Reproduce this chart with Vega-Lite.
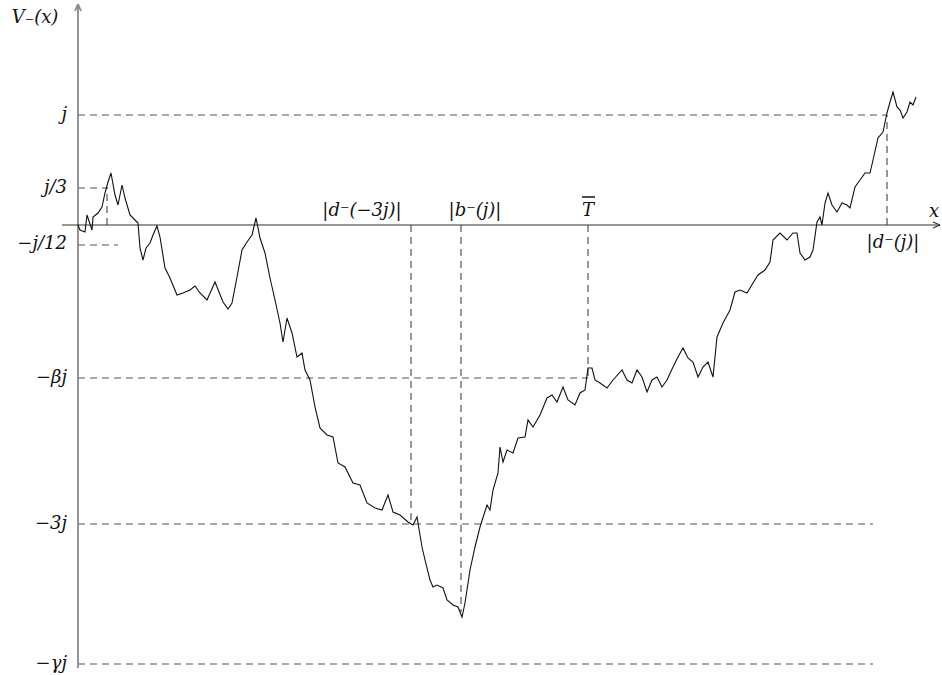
{
  "$schema": "https://vega.github.io/schema/vega-lite/v6.json",
  "width": 942,
  "height": 675,
  "padding": 0,
  "autosize": {"type": "fit", "contains": "padding"},
  "config": {"view": {"stroke": null}},
  "layer": [
    {
      "data": {"values": [
        {"x": 0, "y": 110, "x2": 809, "y2": 110},
        {"x": 0, "y": 37, "x2": 30, "y2": 37},
        {"x": 0, "y": -20, "x2": 40, "y2": -20},
        {"x": 0, "y": -153, "x2": 510, "y2": -153},
        {"x": 0, "y": -299, "x2": 795, "y2": -299},
        {"x": 0, "y": -439, "x2": 795, "y2": -439},
        {"x": 29, "y": 0, "x2": 29, "y2": 37},
        {"x": 333, "y": 0, "x2": 333, "y2": -299},
        {"x": 383, "y": 0, "x2": 383, "y2": -387},
        {"x": 510, "y": 0, "x2": 510, "y2": -153},
        {"x": 809, "y": 0, "x2": 809, "y2": 110}
      ]},
      "mark": {"type": "rule", "color": "#555", "strokeWidth": 1.2, "strokeDash": [7, 5]},
      "encoding": {
        "x": {"field": "x", "type": "quantitative", "scale": {"domain": [-78, 864], "nice": false, "zero": false}, "axis": null},
        "x2": {"field": "x2"},
        "y": {"field": "y", "type": "quantitative", "scale": {"domain": [-450, 225], "nice": false, "zero": false}, "axis": null},
        "y2": {"field": "y2"}
      }
    },
    {
      "data": {"values": [
        {"x": 0, "y": -443, "x2": 0, "y2": 221, "c": "y"},
        {"x": -3, "y": 214, "x2": 0, "y2": 221, "c": "y"},
        {"x": 3, "y": 214, "x2": 0, "y2": 221, "c": "y"},
        {"x": -16, "y": 0, "x2": 862, "y2": 0, "c": "x"},
        {"x": 855, "y": 3, "x2": 862, "y2": 0, "c": "x"},
        {"x": 855, "y": -3, "x2": 862, "y2": 0, "c": "x"}
      ]},
      "mark": {"type": "rule"},
      "encoding": {
        "x": {"field": "x", "type": "quantitative", "scale": {"domain": [-78, 864], "nice": false, "zero": false}, "axis": null},
        "x2": {"field": "x2"},
        "y": {"field": "y", "type": "quantitative", "scale": {"domain": [-450, 225], "nice": false, "zero": false}, "axis": null},
        "y2": {"field": "y2"},
        "color": {"field": "c", "type": "nominal", "scale": {"domain": ["x", "y"], "range": ["#333333", "#8a8a8a"]}, "legend": null},
        "strokeWidth": {"field": "c", "type": "nominal", "scale": {"domain": ["x", "y"], "range": [1.2, 1.8]}, "legend": null}
      }
    },
    {
      "data": {"values": [
        {"x": 0, "y": 0}, {"x": 2, "y": -5}, {"x": 7, "y": -7}, {"x": 9, "y": 10}, {"x": 14, "y": -5},
        {"x": 15, "y": 8}, {"x": 20, "y": 12}, {"x": 24, "y": 18}, {"x": 27, "y": 32}, {"x": 30, "y": 43},
        {"x": 33, "y": 52}, {"x": 37, "y": 30}, {"x": 40, "y": 20}, {"x": 44, "y": 40}, {"x": 47, "y": 27},
        {"x": 52, "y": 10}, {"x": 57, "y": 5}, {"x": 60, "y": 2}, {"x": 62, "y": -23}, {"x": 65, "y": -35},
        {"x": 68, "y": -23}, {"x": 72, "y": -18}, {"x": 75, "y": -10}, {"x": 79, "y": -1}, {"x": 82, "y": -12},
        {"x": 87, "y": -43}, {"x": 92, "y": -53}, {"x": 99, "y": -70}, {"x": 105, "y": -68}, {"x": 112, "y": -65},
        {"x": 117, "y": -61}, {"x": 122, "y": -68}, {"x": 129, "y": -75}, {"x": 137, "y": -57}, {"x": 145, "y": -77},
        {"x": 150, "y": -84}, {"x": 154, "y": -78}, {"x": 159, "y": -52}, {"x": 164, "y": -25}, {"x": 169, "y": -17},
        {"x": 174, "y": -10}, {"x": 178, "y": 7}, {"x": 182, "y": -13}, {"x": 187, "y": -28}, {"x": 192, "y": -53},
        {"x": 197, "y": -75}, {"x": 202, "y": -98}, {"x": 205, "y": -117}, {"x": 209, "y": -93}, {"x": 214, "y": -108},
        {"x": 219, "y": -132}, {"x": 224, "y": -128}, {"x": 227, "y": -145}, {"x": 232, "y": -155}, {"x": 237, "y": -182},
        {"x": 242, "y": -203}, {"x": 249, "y": -210}, {"x": 255, "y": -212}, {"x": 260, "y": -238}, {"x": 267, "y": -242},
        {"x": 275, "y": -258}, {"x": 282, "y": -260}, {"x": 289, "y": -278}, {"x": 297, "y": -283}, {"x": 304, "y": -285},
        {"x": 310, "y": -270}, {"x": 315, "y": -287}, {"x": 322, "y": -290}, {"x": 330, "y": -297}, {"x": 335, "y": -300},
        {"x": 339, "y": -292}, {"x": 344, "y": -322}, {"x": 347, "y": -335}, {"x": 352, "y": -355}, {"x": 355, "y": -362},
        {"x": 359, "y": -360}, {"x": 365, "y": -363}, {"x": 369, "y": -375}, {"x": 375, "y": -380}, {"x": 380, "y": -382},
        {"x": 384, "y": -392}, {"x": 387, "y": -378}, {"x": 392, "y": -345}, {"x": 397, "y": -322}, {"x": 402, "y": -302},
        {"x": 409, "y": -280}, {"x": 412, "y": -285}, {"x": 415, "y": -265}, {"x": 420, "y": -248}, {"x": 422, "y": -222},
        {"x": 425, "y": -237}, {"x": 429, "y": -225}, {"x": 435, "y": -228}, {"x": 440, "y": -213}, {"x": 447, "y": -212},
        {"x": 450, "y": -195}, {"x": 455, "y": -202}, {"x": 462, "y": -190}, {"x": 469, "y": -173}, {"x": 474, "y": -170},
        {"x": 479, "y": -177}, {"x": 485, "y": -162}, {"x": 490, "y": -175}, {"x": 497, "y": -180}, {"x": 502, "y": -168},
        {"x": 507, "y": -165}, {"x": 510, "y": -143}, {"x": 514, "y": -143}, {"x": 517, "y": -155}, {"x": 522, "y": -158},
        {"x": 529, "y": -163}, {"x": 535, "y": -155}, {"x": 544, "y": -145}, {"x": 549, "y": -155}, {"x": 554, "y": -158},
        {"x": 559, "y": -145}, {"x": 564, "y": -152}, {"x": 569, "y": -167}, {"x": 574, "y": -155}, {"x": 579, "y": -152},
        {"x": 584, "y": -162}, {"x": 589, "y": -155}, {"x": 595, "y": -142}, {"x": 600, "y": -132}, {"x": 605, "y": -123},
        {"x": 610, "y": -133}, {"x": 615, "y": -137}, {"x": 620, "y": -152}, {"x": 625, "y": -142}, {"x": 630, "y": -137},
        {"x": 635, "y": -152}, {"x": 639, "y": -112}, {"x": 645, "y": -98}, {"x": 652, "y": -85}, {"x": 657, "y": -67},
        {"x": 662, "y": -65}, {"x": 669, "y": -68}, {"x": 675, "y": -58}, {"x": 680, "y": -50}, {"x": 687, "y": -45},
        {"x": 692, "y": -37}, {"x": 695, "y": -15}, {"x": 702, "y": -8}, {"x": 709, "y": -15}, {"x": 715, "y": -8},
        {"x": 719, "y": -8}, {"x": 722, "y": -28}, {"x": 727, "y": -35}, {"x": 732, "y": -32}, {"x": 735, "y": -25},
        {"x": 739, "y": 3}, {"x": 742, "y": 8}, {"x": 744, "y": 0}, {"x": 747, "y": 22}, {"x": 750, "y": 32},
        {"x": 754, "y": 20}, {"x": 759, "y": 13}, {"x": 764, "y": 22}, {"x": 769, "y": 20}, {"x": 772, "y": 17},
        {"x": 777, "y": 38}, {"x": 782, "y": 45}, {"x": 787, "y": 52}, {"x": 792, "y": 52}, {"x": 795, "y": 65},
        {"x": 800, "y": 87}, {"x": 805, "y": 93}, {"x": 809, "y": 112}, {"x": 812, "y": 123}, {"x": 815, "y": 133},
        {"x": 819, "y": 118}, {"x": 822, "y": 115}, {"x": 825, "y": 107}, {"x": 829, "y": 113}, {"x": 832, "y": 123},
        {"x": 835, "y": 120}, {"x": 838, "y": 128}
      ]},
      "mark": {"type": "line", "color": "#111", "strokeWidth": 1.1},
      "encoding": {
        "x": {"field": "x", "type": "quantitative", "scale": {"domain": [-78, 864], "nice": false, "zero": false}, "axis": null},
        "y": {"field": "y", "type": "quantitative", "scale": {"domain": [-450, 225], "nice": false, "zero": false}, "axis": null}
      }
    },
    {
      "data": {"values": [
        {"x": 504, "y": 28, "x2": 517, "y2": 28}
      ]},
      "mark": {"type": "rule", "color": "#111", "strokeWidth": 1.5},
      "encoding": {
        "x": {"field": "x", "type": "quantitative", "scale": {"domain": [-78, 864], "nice": false, "zero": false}, "axis": null},
        "x2": {"field": "x2"},
        "y": {"field": "y", "type": "quantitative", "scale": {"domain": [-450, 225], "nice": false, "zero": false}, "axis": null},
        "y2": {"field": "y2"}
      }
    },
    {
      "data": {"values": [
        {"x": -11, "y": 110, "t": "j"},
        {"x": -11, "y": 37, "t": "j/3"},
        {"x": -11, "y": -19, "t": "−j/12"},
        {"x": -11, "y": -153, "t": "−βj"},
        {"x": -11, "y": -299, "t": "−3j"},
        {"x": -11, "y": -439, "t": "−γj"}
      ]},
      "mark": {"type": "text", "align": "right", "baseline": "middle", "font": "DejaVu Serif", "fontStyle": "italic", "fontSize": 18, "color": "#111"},
      "encoding": {
        "x": {"field": "x", "type": "quantitative", "scale": {"domain": [-78, 864], "nice": false, "zero": false}, "axis": null},
        "y": {"field": "y", "type": "quantitative", "scale": {"domain": [-450, 225], "nice": false, "zero": false}, "axis": null},
        "text": {"field": "t"}
      }
    },
    {
      "data": {"values": [
        {"x": -43, "y": 207, "t": "V₋(x)"},
        {"x": 284, "y": 14, "t": "|d⁻(−3j)|"},
        {"x": 397, "y": 14, "t": "|b⁻(j)|"},
        {"x": 510, "y": 14, "t": "T"},
        {"x": 856, "y": 13, "t": "x"},
        {"x": 815, "y": -18, "t": "|d⁻(j)|"}
      ]},
      "mark": {"type": "text", "align": "center", "baseline": "middle", "font": "DejaVu Serif", "fontStyle": "italic", "fontSize": 18, "color": "#111"},
      "encoding": {
        "x": {"field": "x", "type": "quantitative", "scale": {"domain": [-78, 864], "nice": false, "zero": false}, "axis": null},
        "y": {"field": "y", "type": "quantitative", "scale": {"domain": [-450, 225], "nice": false, "zero": false}, "axis": null},
        "text": {"field": "t"}
      }
    }
  ]
}
